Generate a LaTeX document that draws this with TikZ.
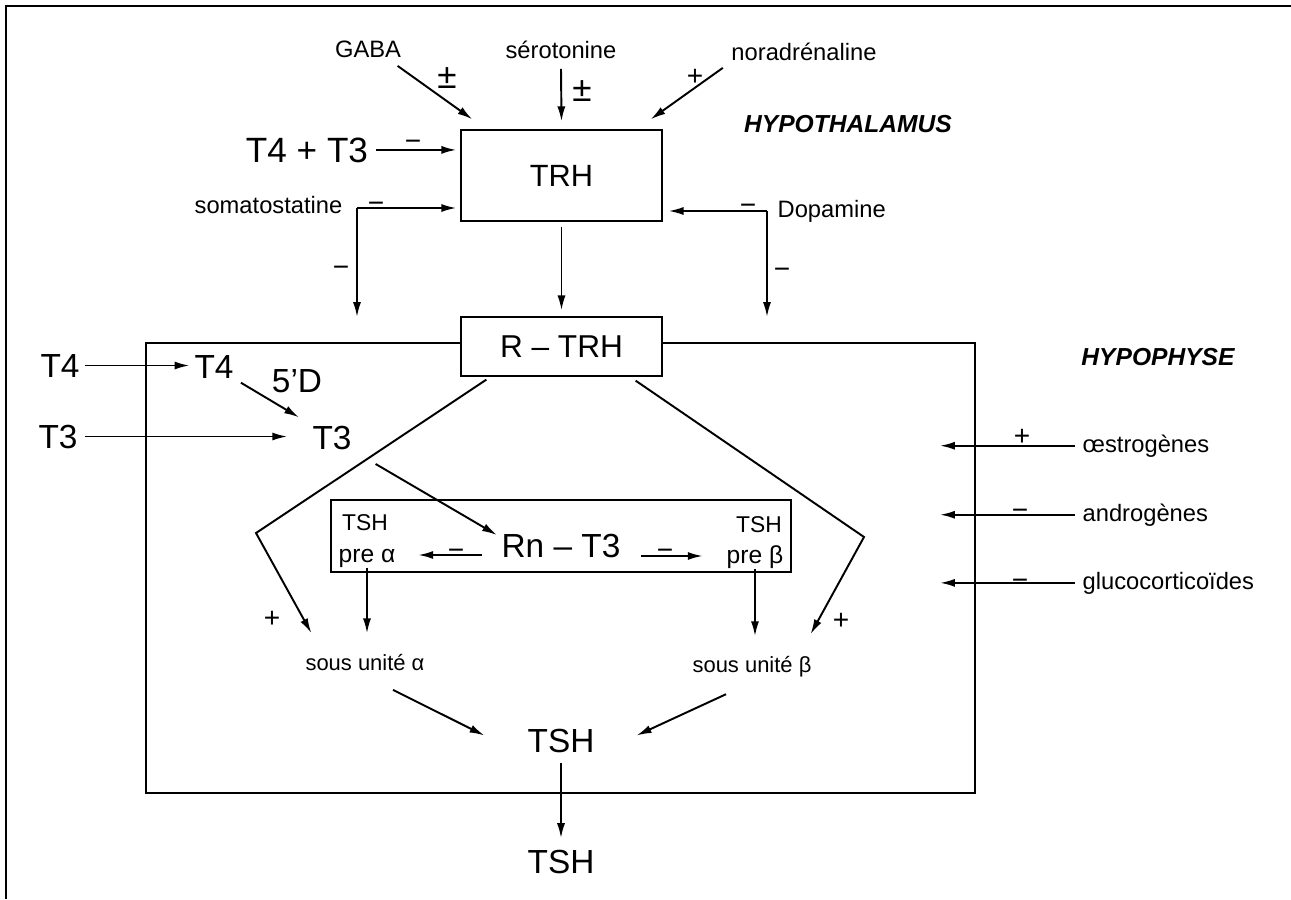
\documentclass[tikz,border=0pt]{standalone}
\usepackage{fontspec}
\setmainfont{Liberation Sans}
\usepackage{tikz}
\usetikzlibrary{positioning, arrows.meta, calc}

\begin{document}
\begin{tikzpicture}[x=0.02cm, y=-0.02cm, line width=0.75pt,
    lbl/.style={inner sep=0pt, anchor=base, font=\fontsize{13.5}{16}\selectfont},
    sublbl/.style={inner sep=0pt, anchor=base, font=\fontsize{12.5}{15}\selectfont},
    sgn/.style={inner sep=0pt, anchor=base, font=\fontsize{16}{18}\selectfont},
    pm/.style={inner sep=0pt, anchor=base, font=\fontsize{20}{22}\selectfont},
    hormone/.style={inner sep=0pt, anchor=base, font=\fontsize{19}{22}\selectfont},
    organ/.style={inner sep=0pt, anchor=base, font=\fontsize{14}{16}\selectfont\bfseries\itshape},
    boite/.style={draw, line width=0.75pt, inner sep=0pt},
    arr/.style={-{Latex[length=8.5pt,width=4.6pt]}, line width=1.1pt}]
  \useasboundingbox (0,0) rectangle (1291,899);
  % Frame
  \draw (1291,6) -- (6,6) -- (6,899);
  % Hypothalamus
  \node[boite, minimum width=4.02cm, minimum height=1.82cm, font=\fontsize{17.5}{20}\selectfont] (trh) at (561.5,175.5) {TRH};
  \node[organ] (hypothal) at (848,132) {HYPOTHALAMUS};
  \node[lbl] (gaba) at (368,57) {GABA};
  \node[lbl] (sero) at (561,58) {sérotonine};
  \node[lbl] (nora) at (804,60) {noradrénaline};
  \node[hormone, font=\fontsize{20}{22}\selectfont] (t4t3) at (307,162) {T4 + T3};
  \node[lbl, anchor=base east] (soma) at (343,213) {somatostatine};
  \node[lbl, anchor=base west] (dopa) at (777,217) {Dopamine};
  \node[pm] (pmgaba) at (447,88) {±};
  \node[pm] (pmsero) at (582,101) {±};
  \node[sgn] (pnora) at (695,85) {+};
  \node[sgn] (mt4t3) at (413,150) {−};
  \node[sgn] (msoma) at (376,212) {−};
  \node[sgn] (msomad) at (341,276) {−};
  \node[sgn] (mdopa) at (748,214) {−};
  \node[sgn] (mdopad) at (782,278) {−};
  \coordinate (somac) at (357,208);
  \coordinate (somad) at (357,317);
  \coordinate (dopac) at (767,211);
  \coordinate (dopad) at (767,317);
  \draw[arr] ($(gaba.south east)+(-4,8)$) -- ($(trh.north west)+(12,-10)$);
  \draw[arr] ($(sero.south)+(0,10)$) -- ($(trh.north)+(0,-8)$);
  \draw[arr] ($(nora.south west)+(-8,7)$) -- ($(trh.north east)+(-12,-10)$);
  \draw[arr, shorten <=4pt, shorten >=2.3pt] (t4t3.east) -- (trh.west |- t4t3.east);
  \draw[arr, shorten >=2.3pt] (somac) -- (trh.west |- somac);
  \draw[arr] (somac) -- (somad);
  \draw[arr, shorten >=3.4pt] (dopac) -- (trh.east |- dopac);
  \draw[arr] (dopac) -- (dopad);
  % Hypophyse
  \node[boite, minimum width=16.58cm, minimum height=9cm] (hypo) at (560.5,568) {};
  \node[boite, fill=white, minimum width=4.02cm, minimum height=1.18cm, font=\fontsize{18}{20}\selectfont] (rtrh) at (561.5,346.5) {R – TRH};
  \draw[arr, shorten <=2.8pt, shorten >=3.4pt] (trh) -- (rtrh);
  \node[organ] (hypoph) at (1158,365) {HYPOPHYSE};
  \node[hormone] (t4out) at (60,377) {T4};
  \node[hormone] (t4in) at (214,378) {T4};
  \node[hormone] (desio) at (297,392) {5’D};
  \node[hormone] (t3out) at (58,448) {T3};
  \node[hormone] (t3in) at (332,449) {T3};
  \draw[arr, shorten <=3pt, shorten >=2.5pt] (t4out.east) -- (t4in.west |- t4out.east);
  \draw[arr, shorten <=4.5pt, shorten >=8.5pt] (t4in.south east) -- (t3in.north west);
  \draw[arr, shorten <=4pt, shorten >=14pt] (t3out.east) -- (t3in.west |- t3out.east);
  % Nuclear receptor
  \node[boite, minimum width=9.2cm, minimum height=1.44cm] (noyau) at (561,536) {};
  \node[hormone] (rn) at (561,557) {Rn – T3};
  \node[lbl, font=\fontsize{13}{15}\selectfont] (tsha) at (365,530) {TSH};
  \node[lbl, font=\fontsize{14}{16}\selectfont] (prea) at (367,562) {pre α};
  \node[lbl, font=\fontsize{13}{15}\selectfont] (tshb) at (759,532) {TSH};
  \node[lbl, font=\fontsize{14}{16}\selectfont] (preb) at (755,563) {pre β};
  \node[sgn] (mrna) at (456,559) {−};
  \node[sgn] (mrnb) at (665,559) {−};
  \coordinate (rnl) at ($(rn.south west)+(-19,-3)$);
  \coordinate (rnr) at ($(rn.south east)+(19.5,-2)$);
  \draw[arr] ($(t3in.south east)+(23.5,14)$) -- ($(rn.north west)+(-4,2)$);
  \draw[arr, shorten >=12.7pt] (rnl) -- (rnl -| prea.east);
  \draw[arr, shorten >=13.3pt] (rnr) -- (rnr -| preb.west);
  % Subunits
  \node[sublbl] (sua) at (365,670) {sous unité α};
  \node[sublbl] (sub) at (752,672) {sous unité β};
  \node[hormone] (tsh) at (561,752) {TSH};
  \node[hormone] (tshout) at (561,873) {TSH};
  \node[sgn] (pla) at (272,627) {+};
  \node[sgn] (plb) at (841,629) {+};
  \coordinate (lcorn) at (256,533);
  \coordinate (rcorn) at (864,537);
  \draw[arr] ($(rtrh.south west)+(26,3)$) -- (lcorn) -- ($(sua.north west)+(6.5,-20)$);
  \draw[arr] ($(rtrh.south east)+(-27,4)$) -- (rcorn) -- ($(sub.north east)+(-1.5,-21)$);
  \draw[arr, shorten >=11.3pt] (prea.south) -- (prea.south |- sua.north);
  \draw[arr, shorten >=10.8pt] (preb.south) -- (preb.south |- sub.north);
  \draw[arr] ($(sua.south)+(28,19)$) -- ($(tsh.west)+(-42.5,-5)$);
  \draw[arr] ($(sub.south)+(-26,17)$) -- ($(tsh.east)+(41.5,-5)$);
  \draw[arr, shorten <=5.7pt, shorten >=6.2pt] (tsh) -- (tshout);
  % Steroids
  \node[lbl, anchor=base west] (oestro) at (1082,452) {œstrogènes};
  \node[lbl, anchor=base west] (andro) at (1082,521) {androgènes};
  \node[lbl, anchor=base west] (gluco) at (1082,589) {glucocorticoïdes};
  \node[sgn] (poestro) at (1022,445) {+};
  \node[sgn] (mandro) at (1020,519) {−};
  \node[sgn] (mgluco) at (1020,589) {−};
  \draw[arr, shorten <=4pt] (oestro.west) -- ($(oestro.west)+(-142,0)$);
  \draw[arr, shorten <=4pt] (andro.west) -- ($(andro.west)+(-142,0)$);
  \draw[arr, shorten <=4pt] (gluco.west) -- ($(gluco.west)+(-142,0)$);
\end{tikzpicture}
\end{document}
